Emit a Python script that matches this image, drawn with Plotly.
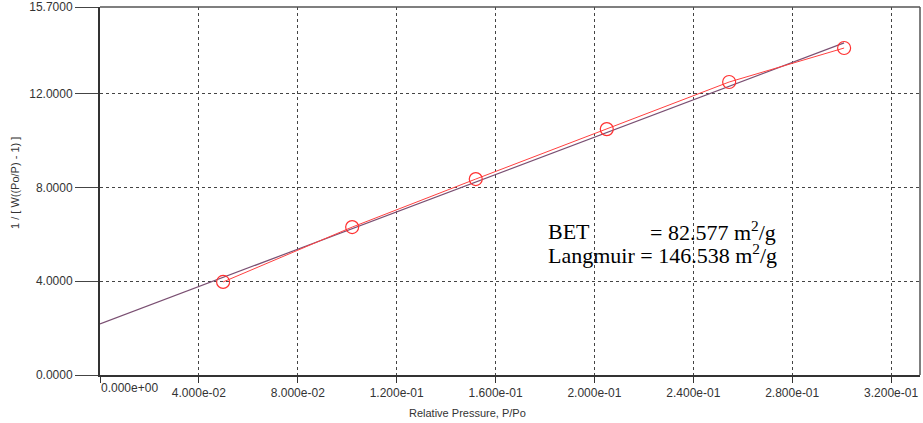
import plotly.graph_objects as go

# Data
rel_pressure = [0.0498, 0.102, 0.152, 0.205, 0.2545, 0.301]
bet_value = [3.97, 6.31, 8.36, 10.49, 12.50, 13.95]

fit_x = [0.0, 0.301]
fit_y = [2.18, 14.17]

x_tick_vals = [0.0, 0.04, 0.08, 0.12, 0.16, 0.20, 0.24, 0.28, 0.32]
x_tick_text = ["", "4.000e-02", "8.000e-02", "1.200e-01", "1.600e-01",
               "2.000e-01", "2.400e-01", "2.800e-01", "3.200e-01"]
y_tick_vals = [0.0, 4.0, 8.0, 12.0, 15.7]
y_tick_text = ["0.0000", "4.0000", "8.0000", "12.0000", "15.7000"]

W, H = 923, 423
L, R, T, B = 100, 3, 7, 48
PW, PH = W - L - R, H - T - B


def px(x, y):
    """pixel position -> paper coordinates"""
    return (x - L) / PW, (H - B - y) / PH


fig = go.Figure()
fig.add_trace(go.Scatter(x=fit_x, y=fit_y, mode="lines",
                         line=dict(color="#7a4f72", width=1.2), showlegend=False))
fig.add_trace(go.Scatter(x=rel_pressure, y=bet_value, mode="lines+markers",
                         line=dict(color="#ff4040", width=1),
                         marker=dict(symbol="circle-open", size=13, color="#ff3030",
                                     line=dict(width=1.2)),
                         showlegend=False))

font_ax = dict(family="Liberation Sans, Arial", size=12, color="#333")
font_serif = dict(family="Liberation Serif, Times New Roman", size=22, color="black")

anns = []
anns.append(dict(x=0, y=0, xref="x", yref="paper", xanchor="left", yanchor="top",
                 yshift=-4, xshift=-1, text="0.000e+00", showarrow=False, font=font_ax))


def pann(x, y, text, font, xanchor="center", **kw):
    ax, ay = px(x, y)
    d = dict(x=ax, y=ay, xref="paper", yref="paper", text=text, showarrow=False,
             font=font, xanchor=xanchor, yanchor="middle")
    d.update(kw)
    anns.append(d)


pann(467, 413, "Relative Pressure, P/Po",
     dict(family="Liberation Sans, Arial", size=11, color="#333"))
pann(15, 183, "1 / [ W((Po/P) - 1) ]",
     dict(family="Liberation Sans, Arial", size=11, color="#333"), textangle=-90)
pann(546, 231, "BET", font_serif, xanchor="left")
pann(648, 231, "= 82.577 m<sup>2</sup>/g", font_serif, xanchor="left")
pann(546, 254, "Langmuir = 146.538 m<sup>2</sup>/g", font_serif, xanchor="left")

fig.update_layout(
    width=W, height=H,
    margin=dict(l=L, r=R, t=T, b=B),
    paper_bgcolor="white", plot_bgcolor="white",
    xaxis=dict(range=[0, 0.3317], tickvals=x_tick_vals, ticktext=x_tick_text,
               showgrid=True, gridcolor="#444", griddash="dot", gridwidth=1,
               zeroline=False, showline=True, linecolor="#333", linewidth=2,
               ticks="outside", ticklen=6, tickcolor="#333",
               tickfont=font_ax, automargin=False),
    yaxis=dict(range=[0, 15.7], tickvals=y_tick_vals, ticktext=y_tick_text,
               showgrid=True, gridcolor="#444", griddash="dot", gridwidth=1,
               zeroline=False, showline=True, linecolor="#333", linewidth=2,
               ticks="outside", ticklen=23, tickcolor="#444",
               tickfont=font_ax, automargin=False),
    shapes=[
        dict(type="line", xref="paper", yref="paper", x0=0, x1=1, y0=1, y1=1,
             line=dict(color="#555", width=1.5)),
        dict(type="line", xref="paper", yref="paper", x0=1, x1=1, y0=0, y1=1,
             line=dict(color="#555", width=1.5)),
    ],
    annotations=anns,
)

# remove the browser's default 8px body margin so the figure fills the window
fig.write_html("out.html",
               config={"displayModeBar": False},
               post_script="document.body.style.margin='0';"
                           "document.body.style.overflow='hidden';")
